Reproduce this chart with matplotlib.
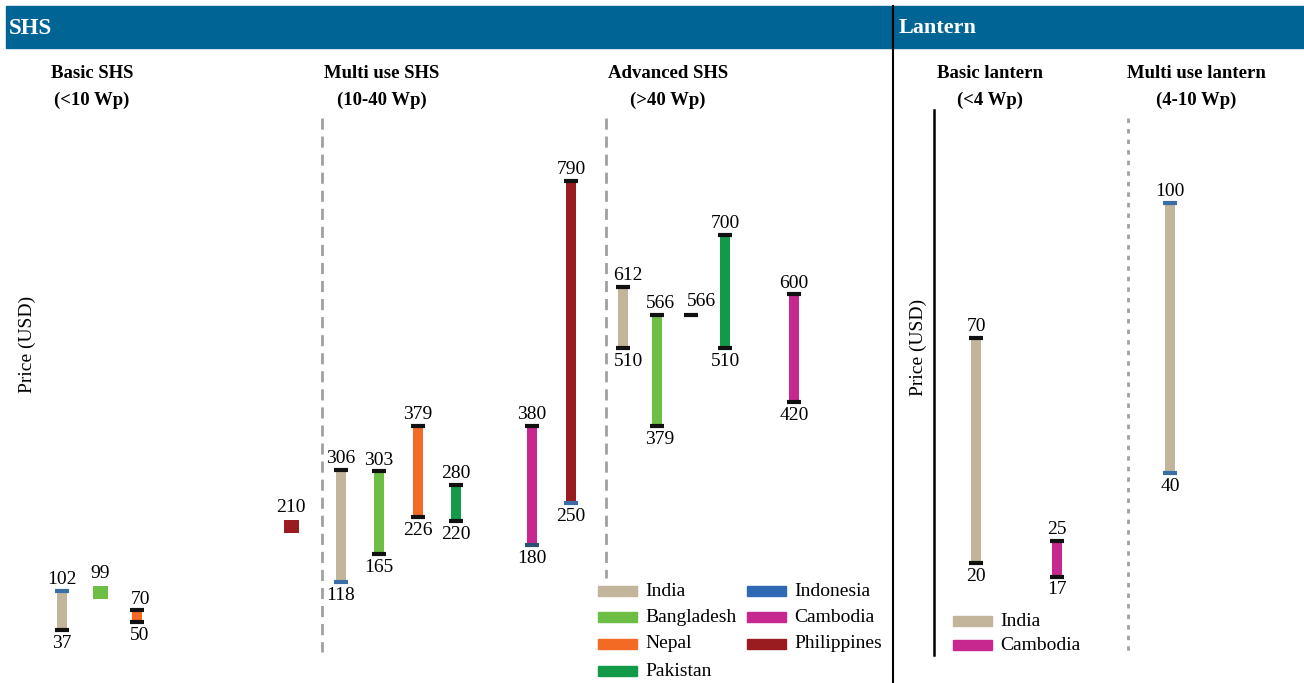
import matplotlib
matplotlib.use("Agg")
import matplotlib.pyplot as plt
from matplotlib.patches import Rectangle
from matplotlib.lines import Line2D

# ---------------- data ----------------
colors = {
    'India': '#C2B59B', 'Bangladesh': '#6CBE45', 'Nepal': '#F26A24',
    'Pakistan': '#139A48', 'Indonesia': '#2F69B3', 'Cambodia': '#C7288F',
    'Philippines': '#9A1C20',
}

shs_groups = ['Basic SHS\n(<10 Wp)', 'Multi use SHS\n(10-40 Wp)', 'Advanced SHS\n(>40 Wp)']
shs_country = ['India', 'Bangladesh', 'Nepal', 'Philippines',
               'India', 'Bangladesh', 'Nepal', 'Pakistan', 'Cambodia', 'Philippines',
               'India', 'Bangladesh', 'Nepal', 'Pakistan', 'Cambodia']
shs_low = [37, 99, 50, 210, 118, 165, 226, 220, 180, 250, 510, 379, 566, 510, 420]
shs_high = [102, 99, 70, 210, 306, 303, 379, 280, 380, 790, 612, 566, 566, 700, 600]

lan_groups = ['Basic lantern\n(<4 Wp)', 'Multi use lantern\n(4-10 Wp)']
lan_country = ['India', 'Cambodia', 'India']
lan_low = [20, 17, 40]
lan_high = [70, 25, 100]

shs_legend = ['India', 'Bangladesh', 'Nepal', 'Pakistan', 'Indonesia', 'Cambodia', 'Philippines']
lan_legend = ['India', 'Cambodia']

# ---------------- layout / style ----------------
W, H = 1304, 683
SERIF = ['Liberation Serif', 'DejaVu Serif']
BLK = '#111111'
BLUECAP = '#3A6EA5'

shs_xpos = [62, 100, 137, 291, 341, 379, 418, 456, 532, 571, 623, 657, 691, 725, 794]
shs_shape = ['bar', 'square', 'bar', 'square', 'bar', 'bar', 'bar', 'bar', 'bar', 'bar',
             'bar', 'bar', 'dash', 'bar', 'bar']
shs_topcap = [BLUECAP, None, BLK, None, BLK, BLK, BLK, BLK, BLK, BLK, BLK, BLK, BLK, BLK, BLK]
shs_botcap = [BLK, None, BLK, None, BLUECAP, BLK, BLK, BLK, '#2A4F70', BLUECAP, BLK, BLK, BLK, BLK, BLK]
shs_lab_dx = [0, 0, 3, 0, 0, 0, 0, 0, 0, 0, 5, 3, 10, 0, 0]

lan_xpos = [976, 1057, 1170]
lan_topcap = [BLK, BLK, BLUECAP]
lan_botcap = [BLK, BLK, BLUECAP]

fig = plt.figure(figsize=(W / 100, H / 100), dpi=100)


def fx(x):
    return x / W


def fy(y):
    return 1 - y / H


def px_axes(x0, x1, y0, y1):
    return fig.add_axes([fx(x0), fy(y1), fx(x1) - fx(x0), fy(y0) - fy(y1)])


# header band
fig.patches.append(Rectangle((fx(6), fy(48)), fx(1304) - fx(6), fy(6) - fy(48),
                             transform=fig.transFigure, color='#006595', zorder=0))
fig.text(fx(9), fy(28), 'SHS', color='white', fontsize=16.5, fontweight='bold',
         family=SERIF, ha='left', va='center')
fig.text(fx(899), fy(28), 'Lantern', color='white', fontsize=16, fontweight='bold',
         family=SERIF, ha='left', va='center')
fig.lines.append(Line2D([fx(893), fx(893)], [fy(6), fy(683)], transform=fig.transFigure,
                        color='black', lw=1.5))

# ---------------- SHS axes ----------------
# y_px = 652 - 0.596*v
ax = px_axes(0, 892, 110, 683)
ax.set_xlim(0, 892)
ax.set_ylim((652 - 683) / 0.596, (652 - 110) / 0.596)
ax.axis('off')


def draw(ax, x, lo, hi, c, shape, tcap, bcap, dx, upp):
    # upp: data units per pixel
    if shape == 'bar':
        ax.bar(x, hi - lo, bottom=lo, width=10, color=c, zorder=2)
        ax.plot([x - 7, x + 7], [hi, hi], color=tcap, lw=3, solid_capstyle='butt', zorder=3)
        ax.plot([x - 7, x + 7], [lo, lo], color=bcap, lw=3, solid_capstyle='butt', zorder=3)
        ax.annotate(str(hi), (x + dx, hi), xytext=(0, 2), textcoords='offset points',
                    ha='center', va='bottom', fontsize=14, family=SERIF)
        ax.annotate(str(lo), (x + dx, lo), xytext=(0, -3.5), textcoords='offset points',
                    ha='center', va='top', fontsize=14, family=SERIF)
    elif shape == 'square':
        ax.bar(x, 13 * upp, bottom=hi - 6.5 * upp, width=15, color=c, zorder=2)
        ax.annotate(str(hi), (x, hi + 6.5 * upp), xytext=(0, 3), textcoords='offset points',
                    ha='center', va='bottom', fontsize=14, family=SERIF)
    else:
        ax.plot([x - 7, x + 7], [hi, hi], color=tcap, lw=3, solid_capstyle='butt', zorder=3)
        ax.annotate(str(hi), (x + dx, hi), xytext=(0, 3), textcoords='offset points',
                    ha='center', va='bottom', fontsize=14, family=SERIF)


for i in range(len(shs_low)):
    draw(ax, shs_xpos[i], shs_low[i], shs_high[i], colors[shs_country[i]], shs_shape[i],
         shs_topcap[i], shs_botcap[i], shs_lab_dx[i], 1 / 0.596)

# ---------------- Lantern axes ----------------
# y_px = 653 - 4.5*v
ax2 = px_axes(895, 1304, 110, 683)
ax2.set_xlim(895, 1304)
ax2.set_ylim((653 - 683) / 4.5, (653 - 110) / 4.5)
ax2.axis('off')
for i in range(len(lan_low)):
    draw(ax2, lan_xpos[i], lan_low[i], lan_high[i], colors[lan_country[i]], 'bar',
         lan_topcap[i], lan_botcap[i], 0, 1 / 4.5)

# ---------------- decorations ----------------
grey = '#A0A0A0'
fig.lines.append(Line2D([fx(322)] * 2, [fy(118), fy(652)], transform=fig.transFigure,
                        color=grey, lw=2, dashes=(4, 2.5)))
fig.lines.append(Line2D([fx(606)] * 2, [fy(118), fy(578)], transform=fig.transFigure,
                        color=grey, lw=2, dashes=(4, 2.5)))
fig.lines.append(Line2D([fx(1128)] * 2, [fy(118), fy(655)], transform=fig.transFigure,
                        color=grey, lw=2, dashes=(1.6, 2.2)))
fig.lines.append(Line2D([fx(934)] * 2, [fy(110), fy(655)], transform=fig.transFigure,
                        color='black', lw=1.8))

# group titles
title_x = [92, 382, 668]
for t, xc in zip(shs_groups, title_x):
    l1, l2 = t.split('\n')
    fig.text(fx(xc), fy(74), l1, ha='center', va='center', fontsize=13.5,
             fontweight='bold', family=SERIF)
    fig.text(fx(xc), fy(100), l2, ha='center', va='center', fontsize=13.5,
             fontweight='bold', family=SERIF)
lan_title_x = [990, 1196]
for t, xc in zip(lan_groups, lan_title_x):
    l1, l2 = t.split('\n')
    fig.text(fx(xc), fy(74), l1, ha='center', va='center', fontsize=13.5,
             fontweight='bold', family=SERIF)
    fig.text(fx(xc), fy(100), l2, ha='center', va='center', fontsize=13.5,
             fontweight='bold', family=SERIF)

# y labels
fig.text(fx(27), fy(344), 'Price (USD)', rotation=90, ha='center', va='center',
         fontsize=14, family=SERIF)
fig.text(fx(918), fy(347), 'Price (USD)', rotation=90, ha='center', va='center',
         fontsize=14, family=SERIF)


# legends
def legend_entry(x, y, name):
    fig.patches.append(Rectangle((fx(x), fy(y + 5)), fx(39), 10 / H,
                                 transform=fig.transFigure, color=colors[name]))
    fig.text(fx(x + 47), fy(y), name, ha='left', va='center', fontsize=14, family=SERIF)


rows = [591, 617, 644, 671]
for k, name in enumerate(shs_legend):
    col, row = divmod(k, 4)
    legend_entry(598 + col * 149, rows[row], name)
for k, name in enumerate(lan_legend):
    legend_entry(953, 621 + 24 * k, name)

fig.savefig('out.png', dpi=100)
